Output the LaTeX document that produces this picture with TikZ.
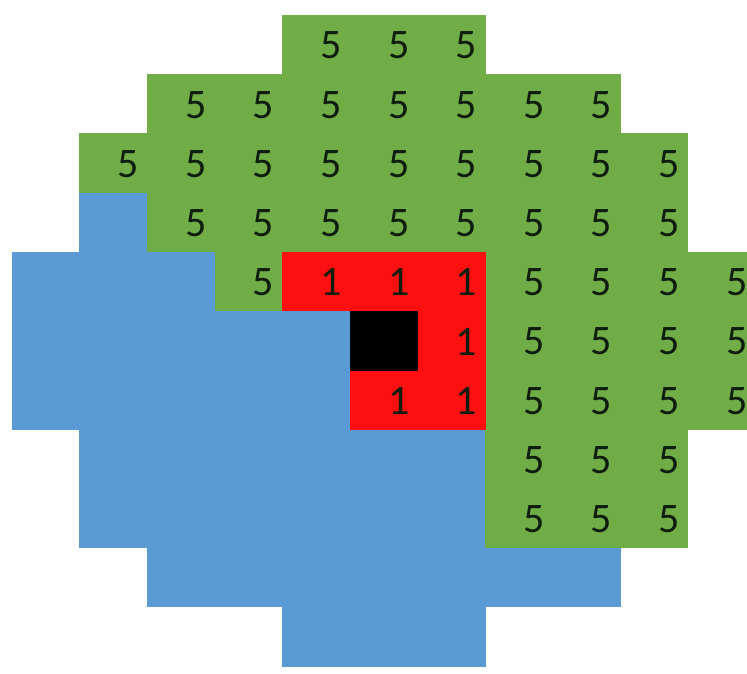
\documentclass[tikz,border=0pt]{standalone}
\usepackage{fontspec}
\setmainfont{Carlito}
\definecolor{cgreen}{HTML}{70AD47}
\definecolor{cblue}{HTML}{5B9BD5}
\definecolor{cred}{HTML}{FF1010}
\definecolor{cdigit}{HTML}{0E1E0E}
\tikzset{
  cell/.style={rectangle,minimum width=68.2pt,minimum height=59.8pt,inner sep=0pt,outer sep=0pt,draw=none},
  num/.style={text=cdigit,font=\fontsize{42}{42}\selectfont,inner sep=0pt,xshift=15pt,yshift=-1pt},
  water/.style={cell,fill=cblue},
  land/.style={cell,fill=cgreen,label={[num]center:5}},
  front/.style={cell,fill=cred,label={[num]center:1}},
  seed/.style={cell,fill=black}
}

\begin{document}
\begin{tikzpicture}[x=1pt,y=-1pt]
\useasboundingbox (0,0) rectangle (747,673);

% blue region, row / first column / last column
\foreach \r/\a/\b in {3/1/1,4/0/2,5/0/4,6/0/4,7/1/6,8/1/6,9/2/8,10/4/6}
  \foreach \c in {\a,...,\b}
    \node[water] (w-\r-\c) at ({45.8+67.6*\c},{44.6+59.2*\r}) {};

% green cells
\foreach \r/\a/\b in {0/4/6,1/2/8,2/1/9,3/2/9,4/3/3,4/7/10,5/7/10,6/7/10,7/7/9,8/7/9}
  \foreach \c in {\a,...,\b}
    \node[land] (l-\r-\c) at ({45.8+67.6*\c},{44.6+59.2*\r}) {};

% red cells
\foreach \r/\a/\b in {4/4/6,5/6/6,6/5/6}
  \foreach \c in {\a,...,\b}
    \node[front] (f-\r-\c) at ({45.8+67.6*\c},{44.6+59.2*\r}) {};

\node[seed] (s) at ({45.8+67.6*5},{44.6+59.2*5}) {};

\end{tikzpicture}
\end{document}
